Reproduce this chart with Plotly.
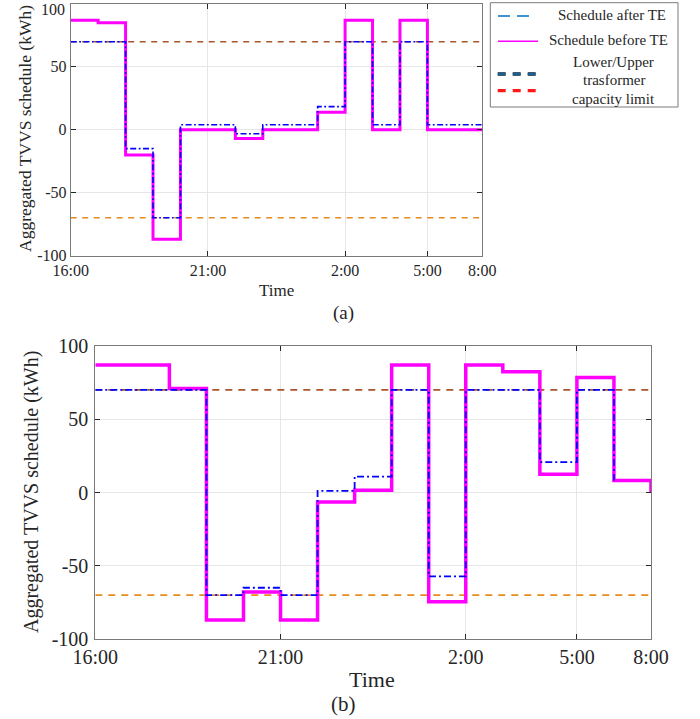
import plotly.graph_objects as go

# ---------------- data ----------------
steps = list(range(16))
tick_vals = [0, 5, 10, 13, 15]
tick_text = ["16:00", "21:00", "2:00", "5:00", "8:00"]
y_ticks = [-100, -50, 0, 50, 100]
y_tick_text = ["-100", "-50", "0", "50", "100"]

a_before = [87, 85, -20, -87, 0, 0, -7, 0, 0, 14, 87, 0, 87, 0, 0, 0]
a_after = [70, 70, -15, -70, 4, 4, -3.2, 4, 4, 18.4, 70, 4, 70, 4, 4, 4]
b_before = [87, 87, 71, -87, -68, -87, -6.4, 1.6, 87, -74.5, 87, 82.5, 12.5, 78.5, 8.2, 0]
b_after = [70, 70, 70, -70, -65, -70, 1.1, 10.9, 70, -57.3, 70, 70, 20.7, 70, 8.2]
upper_limit = 70
lower_limit = -70

legend_labels = ["Schedule after TE", "Schedule before TE",
                 "Lower/Upper", "trasformer", "capacity limit"]

W, H = 700, 719
FONT = "Liberation Serif"


def px(x):
    return x / W


def py(y):
    return 1 - y / H


fig = go.Figure()

panels = [
    dict(xa="x", ya="y", before=a_before, after=a_after, pw=3, bw=1.6,
         bdash="6px,2.5px,1.8px,2.5px", ldash="6px,5.5px", lw=1.6),
    dict(xa="x2", ya="y2", before=b_before, after=b_after, pw=3.5, bw=1.8,
         bdash="7px,3px,2px,3px", ldash="7px,6px", lw=1.8),
]

for p in panels:
    x_end = [steps[0], steps[-1]]
    fig.add_trace(go.Scatter(x=x_end, y=[upper_limit] * 2, mode="lines",
                             line=dict(color="#A9542B", width=p["lw"], dash=p["ldash"]),
                             xaxis=p["xa"], yaxis=p["ya"], showlegend=False))
    fig.add_trace(go.Scatter(x=x_end, y=[lower_limit] * 2, mode="lines",
                             line=dict(color="#E58C1F", width=p["lw"], dash=p["ldash"]),
                             xaxis=p["xa"], yaxis=p["ya"], showlegend=False))
    fig.add_trace(go.Scatter(x=steps, y=p["before"], mode="lines",
                             line=dict(color="#FF00FF", width=p["pw"], shape="hv"),
                             xaxis=p["xa"], yaxis=p["ya"], showlegend=False))
    fig.add_trace(go.Scatter(x=steps[:len(p["after"])], y=p["after"], mode="lines",
                             line=dict(color="#0000FF", width=p["bw"], shape="hv", dash=p["bdash"]),
                             xaxis=p["xa"], yaxis=p["ya"], showlegend=False))


def xaxis_cfg(domain, fs, standoff):
    return dict(domain=domain, range=[0, 15], tickvals=tick_vals, ticktext=tick_text,
                showgrid=True, gridcolor="#E6E6E6", gridwidth=1, zeroline=False,
                showline=True, linecolor="#7A7A7A", linewidth=1, mirror="ticks",
                ticks="inside", ticklen=5, tickcolor="#262626", tickwidth=1,
                tickfont=dict(family=FONT, size=fs, color="#262626"),
                ticklabelstandoff=standoff, ticklabeloverflow="allow",
                automargin=False, fixedrange=True)


def yaxis_cfg(domain, fs, anchor, standoff, labels):
    return dict(domain=domain, range=[-100, 100], tickvals=y_ticks, ticktext=labels,
                showgrid=True, gridcolor="#E6E6E6", gridwidth=1, zeroline=False,
                showline=True, linecolor="#7A7A7A", linewidth=1, mirror="ticks",
                ticks="inside", ticklen=5, tickcolor="#262626", tickwidth=1,
                tickfont=dict(family=FONT, size=fs, color="#262626"),
                ticklabelstandoff=standoff, ticklabeloverflow="allow",
                anchor=anchor, automargin=False, fixedrange=True)


# the top "100" label of panel (a) sits against the page edge: drawn as an annotation
top_labels = y_tick_text[:-1] + [""]

fig.update_layout(
    width=W, height=H, margin=dict(l=0, r=0, t=0, b=0, autoexpand=False),
    paper_bgcolor="white", plot_bgcolor="white",
    xaxis=dict(**xaxis_cfg([px(70.7), px(482.3)], 16, 0), anchor="y"),
    yaxis=yaxis_cfg([py(255.5), py(4)], 16, "x", 0, top_labels),
    xaxis2=dict(**xaxis_cfg([px(95.3), px(651)], 20, 0), anchor="y2"),
    yaxis2=yaxis_cfg([py(639), py(346)], 20, "x2", 2, y_tick_text),
)

ann = []


def text(t, x, y, size, angle=0, xanchor="center", yanchor="middle"):
    ann.append(dict(text=t, x=px(x), y=py(y), xref="paper", yref="paper",
                    showarrow=False, textangle=angle, xanchor=xanchor, yanchor=yanchor,
                    borderpad=0,
                    font=dict(family=FONT, size=size, color="#262626")))


text(y_tick_text[-1], 66, 0.5, 16, xanchor="right", yanchor="top")
text("Aggregated TVVS schedule (kWh)", 25, 129, 17.5, -90)
text("Time", 276, 290, 17)
text("(a)", 343, 313, 19)
text("Aggregated TVVS schedule (kWh)", 31, 492, 20, -90)
text("Time", 372, 679, 22)
text("(b)", 343, 704, 21)

# legend text
text(legend_labels[0], 611.7, 15, 15)
text(legend_labels[1], 608.7, 40.5, 15)
text(legend_labels[2], 613.5, 61.7, 15)
text(legend_labels[3], 613.7, 80.3, 15)
text(legend_labels[4], 613.3, 98.7, 15)
fig.update_layout(annotations=ann)

shapes = []
shapes.append(dict(type="rect", xref="paper", yref="paper",
                   x0=px(490.3), x1=px(678), y0=py(107), y1=py(2.7),
                   line=dict(color="#7A7A7A", width=1), fillcolor="white", layer="below"))


def lseg(x0, x1, y, color, width, dash):
    shapes.append(dict(type="line", xref="paper", yref="paper",
                       x0=px(x0), x1=px(x1), y0=py(y), y1=py(y), layer="above",
                       line=dict(color=color, width=width, dash=dash)))


lseg(498, 530, 16, "#0072BD", 1.3, "12px,7px")
lseg(498, 538, 41.2, "#FF00FF", 1.4, "solid")
lseg(497.7, 536, 74, "#0B2238", 3.6, "8px,7px")
lseg(497.7, 536, 74, "#1F77B4", 1.4, "8px,7px")
lseg(497.7, 536, 90.7, "#FF1A1A", 3.2, "8px,7px")
fig.update_layout(shapes=shapes)

fig.write_html(
    "out.html",
    config={"displayModeBar": False},
    post_script="document.body.style.margin='0';document.body.style.overflow='hidden';",
)
